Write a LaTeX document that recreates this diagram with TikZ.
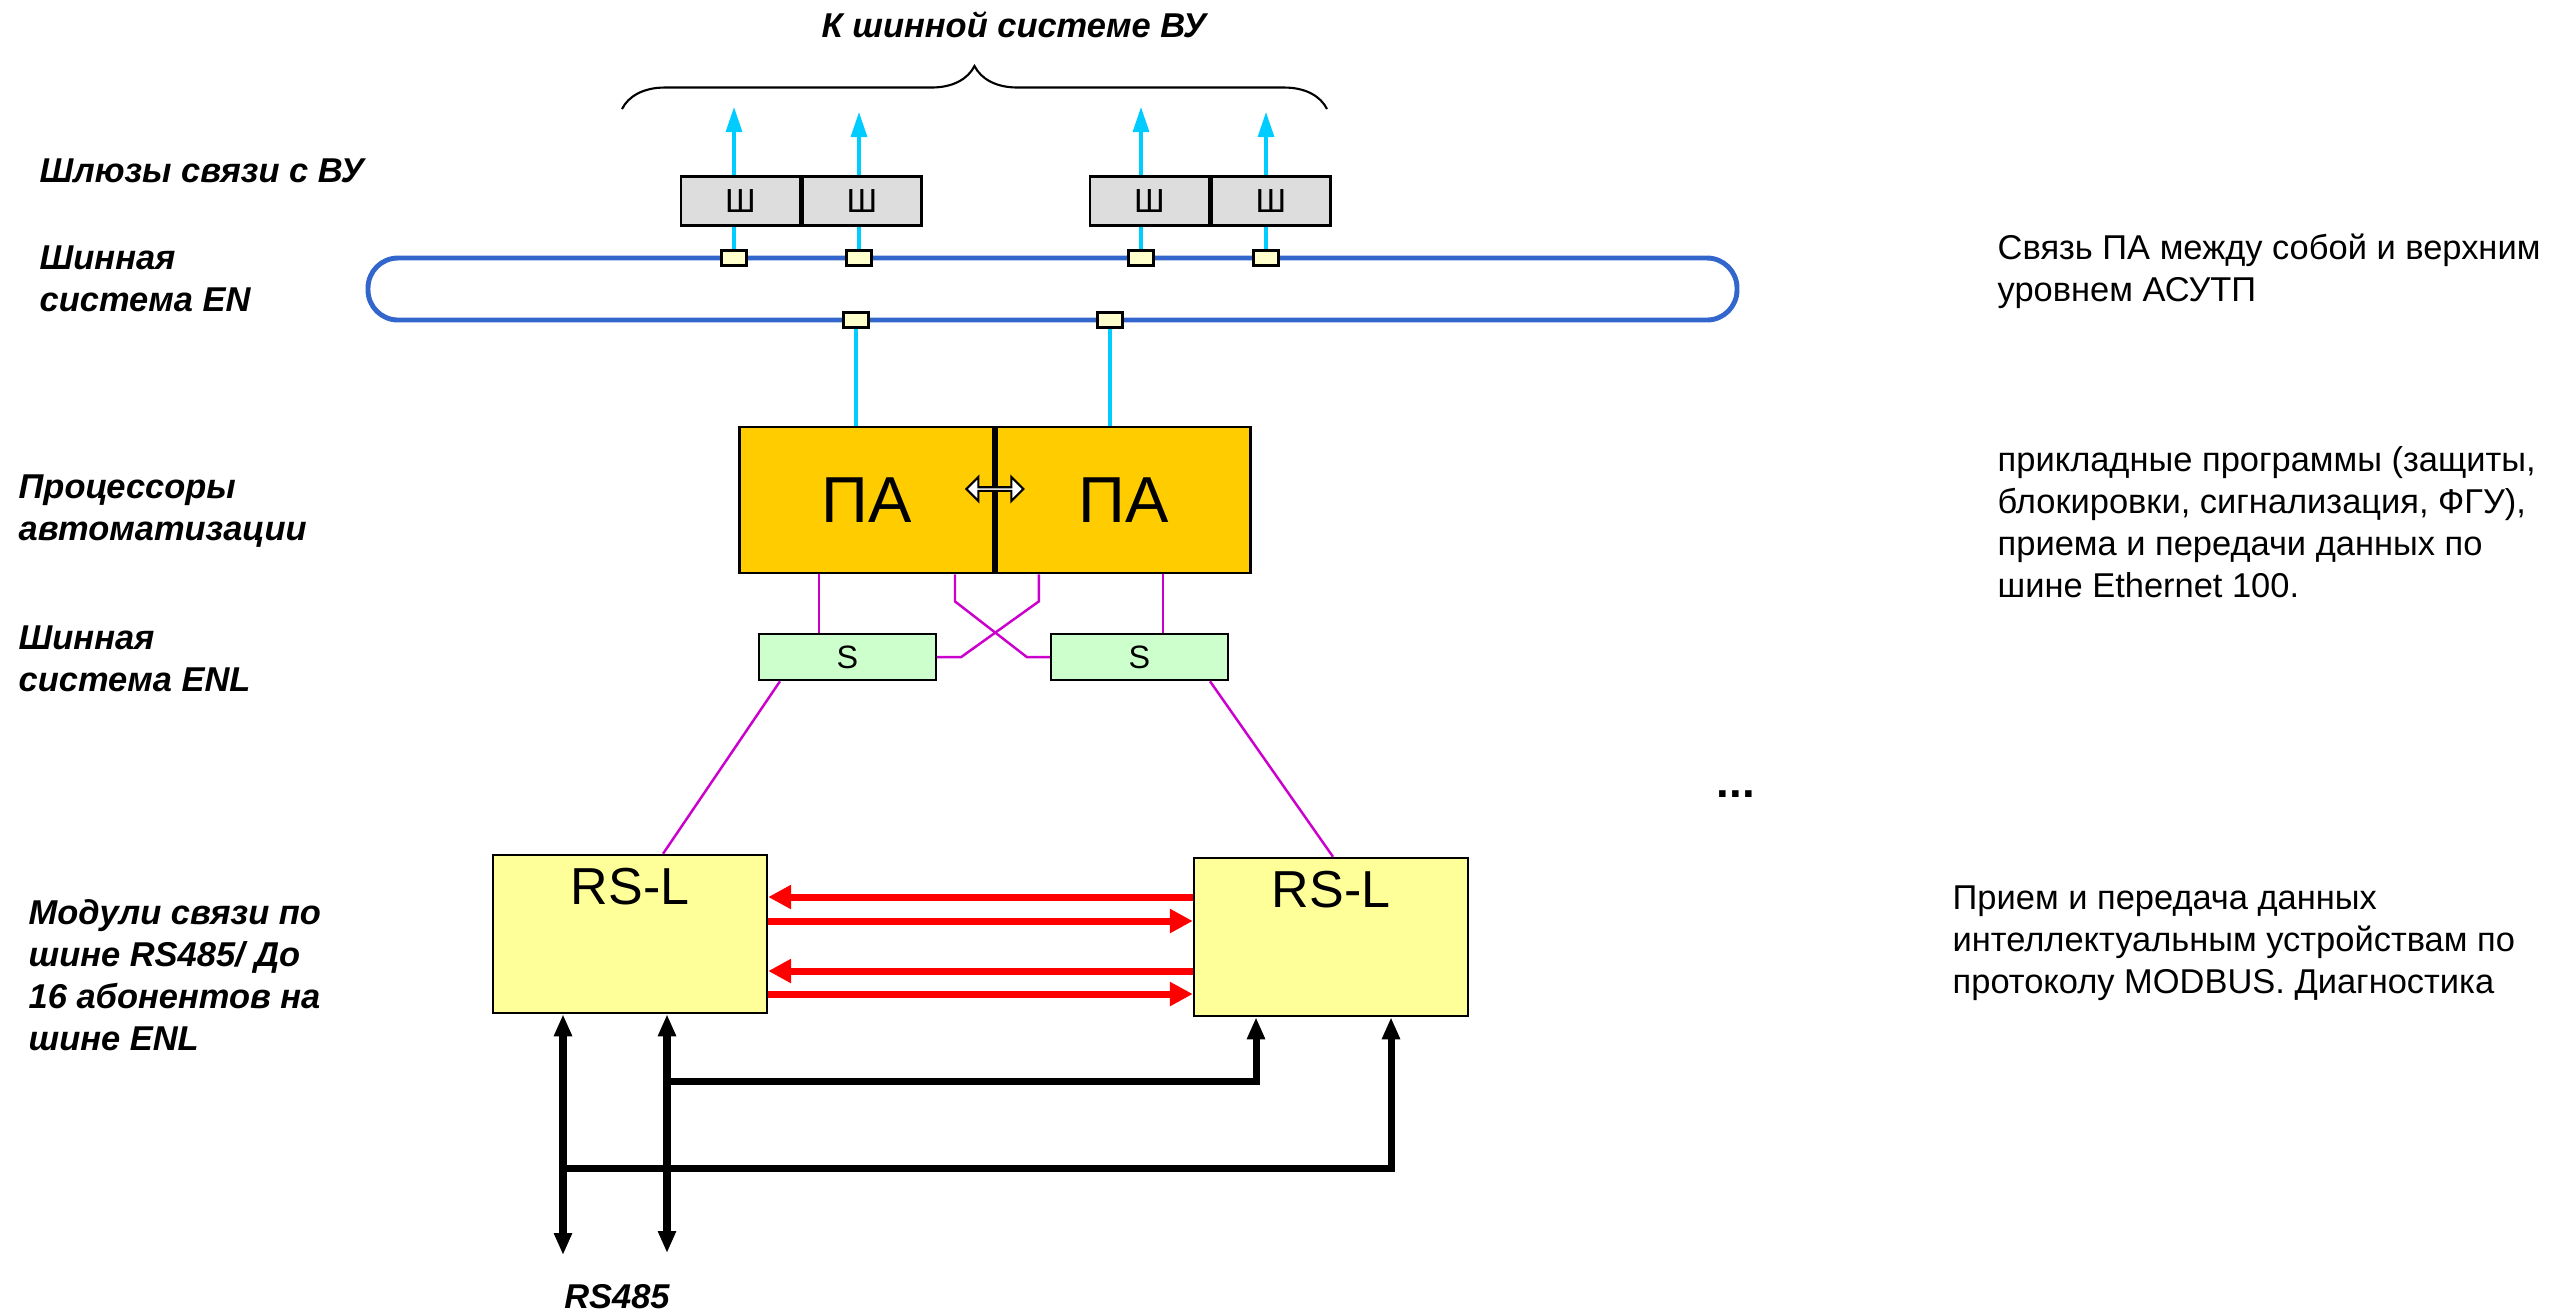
\documentclass[tikz,border=0pt]{standalone}
\usepackage{fontspec}
\setmainfont{Liberation Sans}
\usetikzlibrary{positioning,arrows.meta,calc,shapes.arrows,decorations.pathreplacing}
\definecolor{enblue}{HTML}{3366CC}
\definecolor{ethcyan}{HTML}{00CCFF}
\definecolor{gwgray}{HTML}{DDDDDD}
\definecolor{tapyellow}{HTML}{FFFFCC}
\definecolor{pagold}{HTML}{FFCC00}
\definecolor{swgreen}{HTML}{CCFFCC}
\definecolor{enlmag}{HTML}{CC00CC}
\definecolor{rslyellow}{HTML}{FFFF99}

\begin{document}
\begin{tikzpicture}[x=1cm, y=-1cm,
  lbl/.style={anchor=west, align=left, inner sep=0pt, font=\fontsize{9.8}{11.9}\selectfont\bfseries\itshape},
  note/.style={anchor=west, align=left, inner sep=0pt, font=\fontsize{9.8}{11.9}\selectfont},
  gw/.style={draw, line width=0.7pt, fill=gwgray, minimum width=1.19cm, minimum height=0.49cm, inner sep=0pt, font=\fontsize{9.5}{10}\selectfont},
  tap/.style={draw, line width=0.7pt, fill=tapyellow, minimum width=0.25cm, minimum height=0.15cm, inner sep=0pt},
  pa/.style={draw, line width=0.8pt, fill=pagold, minimum width=2.54cm, minimum height=1.46cm, inner sep=0pt, font=\fontsize{18.5}{20}\selectfont},
  sw/.style={draw, line width=0.7pt, fill=swgreen, minimum width=1.77cm, minimum height=0.46cm, inner sep=0pt, font=\fontsize{9.2}{10}\selectfont},
  rsl/.style={draw, line width=0.7pt, fill=rslyellow, minimum width=2.74cm, minimum height=1.58cm, inner sep=0pt,
    label={[anchor=north, inner sep=0pt, yshift=-0.14cm, font=\fontsize{14.8}{16}\selectfont]north:RS-L}},
  bus/.style={draw=enblue, line width=1.4pt, rounded corners=0.3cm, minimum width=13.69cm, minimum height=0.62cm},
  eth/.style={ethcyan, line width=0.9pt},
  enl/.style={enlmag, line width=0.7pt},
  msg/.style={red, line width=2pt, -{Triangle[length=0.23cm,width=0.23cm]}},
  wire/.style={line width=2pt},
  tip/.tip={Triangle[length=0.22cm,width=0.17cm]}
]
  \useasboundingbox (0,0) rectangle (25.75,13.12);

  % EN ring with its taps
  \node[bus] (en) at (10.525,2.89) {};
  \node[tap] (t1) at (7.34,2.58) {};
  \node[tap] (t2) at (8.59,2.58) {};
  \node[tap] (t3) at (11.41,2.58) {};
  \node[tap] (t4) at (12.66,2.58) {};
  \node[tap] (b1) at (8.56,3.20) {};
  \node[tap] (b2) at (11.10,3.20) {};

  \coordinate (u1) at (7.34,1.07);
  \coordinate (u2) at (8.59,1.12);
  \coordinate (u3) at (11.41,1.07);
  \coordinate (u4) at (12.66,1.12);
  \foreach \i in {1,...,4}
    \draw[eth, -{Triangle[length=0.25cm,width=0.16cm]}] (t\i) -- (u\i);

  \node[gw] (gw1) at (7.405,2.01) {Ш};
  \node[gw, right=0pt of gw1] (gw2) {Ш};
  \node[gw] (gw3) at (11.495,2.01) {Ш};
  \node[gw, right=0pt of gw3] (gw4) {Ш};

  \draw[line width=0.6pt, decorate, decoration={brace, amplitude=0.43cm}] (6.22,1.09) -- (13.27,1.09);
  \node[font=\fontsize{9.8}{11}\selectfont\bfseries\itshape] (vu) at (10.14,0.25) {К шинной системе ВУ};

  % automation processors
  \node[pa] (pa1) at (8.665,5.00) {ПА};
  \node[pa, right=0pt of pa1] (pa2) {ПА};
  \node[double arrow, draw, fill=white, line width=0.6pt, minimum height=0.57cm, minimum width=0.24cm,
    double arrow head extend=0.06cm, inner sep=0pt] (xlink) at ([yshift=0.11cm]pa1.east) {};
  \draw[eth] (b1) -- (b1 |- pa1.north);
  \draw[eth] (b2) -- (b2 |- pa2.north);

  % ENL switches
  \node[sw] (sw1) at (8.475,6.57) {S};
  \node[sw] (sw2) at (11.395,6.57) {S};
  \draw[enl] ([xshift=-0.475cm]pa1.south) -- ([xshift=-0.475cm]pa1.south |- sw1.north);
  \draw[enl] ([xshift=0.395cm]pa2.south) -- ([xshift=0.395cm]pa2.south |- sw2.north);
  \draw[enl] ([xshift=0.885cm]pa1.south) -- ++(0,0.27) -- ([xshift=-0.23cm]sw2.west) -- (sw2.west);
  \draw[enl] ([xshift=-0.845cm]pa2.south) -- ++(0,0.27) -- ([xshift=0.24cm]sw1.east) -- (sw1.east);

  % RS485 modules
  \node[rsl] (rsl1) at (6.30,9.34) {};
  \node[rsl] (rsl2) at (13.31,9.37) {};
  \draw[enl] ([xshift=-0.675cm]sw1.south) -- ([xshift=0.33cm]rsl1.north);
  \draw[enl] ([xshift=0.705cm]sw2.south) -- ([xshift=0.02cm]rsl2.north);

  \draw[msg] (rsl2.west |- 0,8.97) -- (rsl1.east |- 0,8.97);
  \draw[msg] (rsl1.east |- 0,9.21) -- (rsl2.west |- 0,9.21);
  \draw[msg] (rsl2.west |- 0,9.71) -- (rsl1.east |- 0,9.71);
  \draw[msg] (rsl1.east |- 0,9.94) -- (rsl2.west |- 0,9.94);

  \coordinate (rsa) at (5.63,12.55);
  \coordinate (rsb) at (6.67,12.53);
  \coordinate (j1) at (6.67,10.81);
  \coordinate (j2) at (5.63,11.68);
  \draw[wire, tip-tip] (rsa) -- (rsa |- rsl1.south);
  \draw[wire, tip-tip] (rsb) -- (rsb |- rsl1.south);
  \draw[wire, -tip] (j1) -| ([xshift=-0.75cm]rsl2.south);
  \draw[wire, -tip] (j2) -| ([xshift=0.60cm]rsl2.south);
  \node[lbl, anchor=center] (rs485) at (6.17,12.97) {RS485};

  \node[font=\fontsize{13}{14}\selectfont\bfseries, anchor=base] (more) at (17.36,7.97) {...};

  % captions on the left
  \node[lbl] (lgw) at (0.39,1.71) {Шлюзы связи с ВУ};
  \node[lbl] (len) at (0.39,2.79) {Шинная\\система EN};
  \node[lbl] (lpa) at (0.18,5.11) {Процессоры\\автоматизации};
  \node[lbl] (lenl) at (0.18,6.59) {Шинная\\система ENL};
  \node[lbl] (lrs) at (0.28,9.75) {Модули связи по\\шине RS485/ До\\16 абонентов на\\шине ENL};

  % notes on the right
  \node[note] (nen) at (19.97,2.71) {Связь ПА между собой и верхним\\уровнем АСУТП};
  \node[note] (npa) at (19.97,5.22) {прикладные программы (защиты,\\блокировки, сигнализация, ФГУ),\\приема и передачи данных по\\шине Ethernet 100.};
  \node[note] (nrs) at (19.52,9.43) {Прием и передача данных\\интеллектуальным устройствам по\\протоколу MODBUS. Диагностика};
\end{tikzpicture}
\end{document}
